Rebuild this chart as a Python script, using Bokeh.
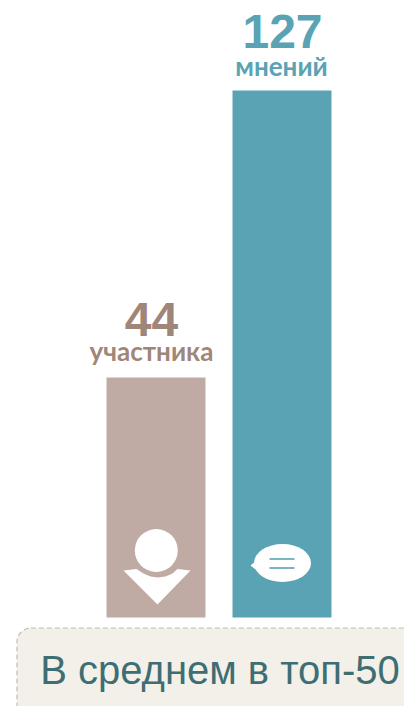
from bokeh.plotting import figure
from bokeh.models import Range1d
from bokeh.core.properties import value
from bokeh.embed import file_html
from bokeh.resources import INLINE

values = [44, 127]
units = ["участника", "мнений"]
caption = "В среднем в топ-50"
bar_colors = ["#BFABA3", "#5AA3B5"]
text_colors = ["#A08679", "#5AA3B5"]

W, H = 404, 706
BASE = 617.0                 # page pixel of the bar baseline
TOP_MAX = 90.0               # page pixel of the top of the tallest bar
PX_PER_UNIT = 287 / 83       # pixels per unit between the two bars
y_bottom = 127 - (BASE - TOP_MAX) / PX_PER_UNIT   # value at the baseline (axis does not start at zero)

p = figure(width=W, height=H, output_backend="svg", toolbar_location=None,
           x_range=Range1d(0, W),
           y_range=Range1d(y_bottom - (H - BASE) / PX_PER_UNIT, y_bottom + BASE / PX_PER_UNIT),
           min_border=0, outline_line_color=None, x_axis_type=None, y_axis_type=None)
p.grid.visible = False
p.extra_y_ranges["px"] = Range1d(H, 0)   # page pixel coordinates for decoration

centers = [155.5, 281.5]
p.vbar(x=centers, width=99, bottom=y_bottom, top=values, fill_color=bar_colors, line_color=None)

# caption box
p.quad(left=[16.5], right=[460], top=[627.5], bottom=[760], y_range_name="px",
       fill_color="#F3F0EA", line_color="#C0BEB9", line_width=1.2, line_dash="5 3",
       border_radius=14)
p.text(x=[219.5], y=[669], text=[caption], y_range_name="px", text_align="center",
       text_baseline="alphabetic", text_font=value("Liberation Sans"),
       text_font_size="40px", text_color="#3E6E73")

# value labels
num_x = [151, 282]
unit_x = [151, 281]
num_y = [319, 31]
unit_y = [350, 65]
for i in range(2):
    p.text(x=[num_x[i]], y=[num_y[i]], text=[str(values[i])],
           y_range_name="px", text_align="center", text_baseline="alphabetic",
           text_font=value("Liberation Sans"), text_font_size="48px",
           text_font_style="bold", text_color=text_colors[i])
    p.text(x=[unit_x[i]], y=[unit_y[i]], text=[units[i]],
           y_range_name="px", text_align="center", text_baseline="alphabetic",
           text_font=value("Lato"), text_font_size="26px",
           text_font_style="bold", text_color=text_colors[i])

# person icon
p.ellipse(x=[155.8], y=[550], width=43, height=43, y_range_name="px",
          fill_color="white", line_color=None, width_units="screen", height_units="screen")
p.patch(x=[123, 136, 143, 150, 157, 165, 172, 177, 190, 157],
        y=[570, 568.5, 573, 576, 577, 576, 573, 568.5, 570, 604],
        y_range_name="px", fill_color="white", line_color=None)

# speech bubble icon
p.ellipse(x=[282], y=[562.5], width=57, height=38, y_range_name="px",
          fill_color="white", line_color=None, width_units="screen", height_units="screen")
p.patch(x=[250, 258, 258], y=[565, 558, 571], y_range_name="px",
        fill_color="white", line_color=None)
p.segment(x0=[269, 269], x1=[294, 294], y0=[558.5, 567.5], y1=[558.5, 567.5],
          y_range_name="px", line_color="#5AA3B5", line_width=1.6)

open("out.html", "w").write(file_html(p, INLINE))
